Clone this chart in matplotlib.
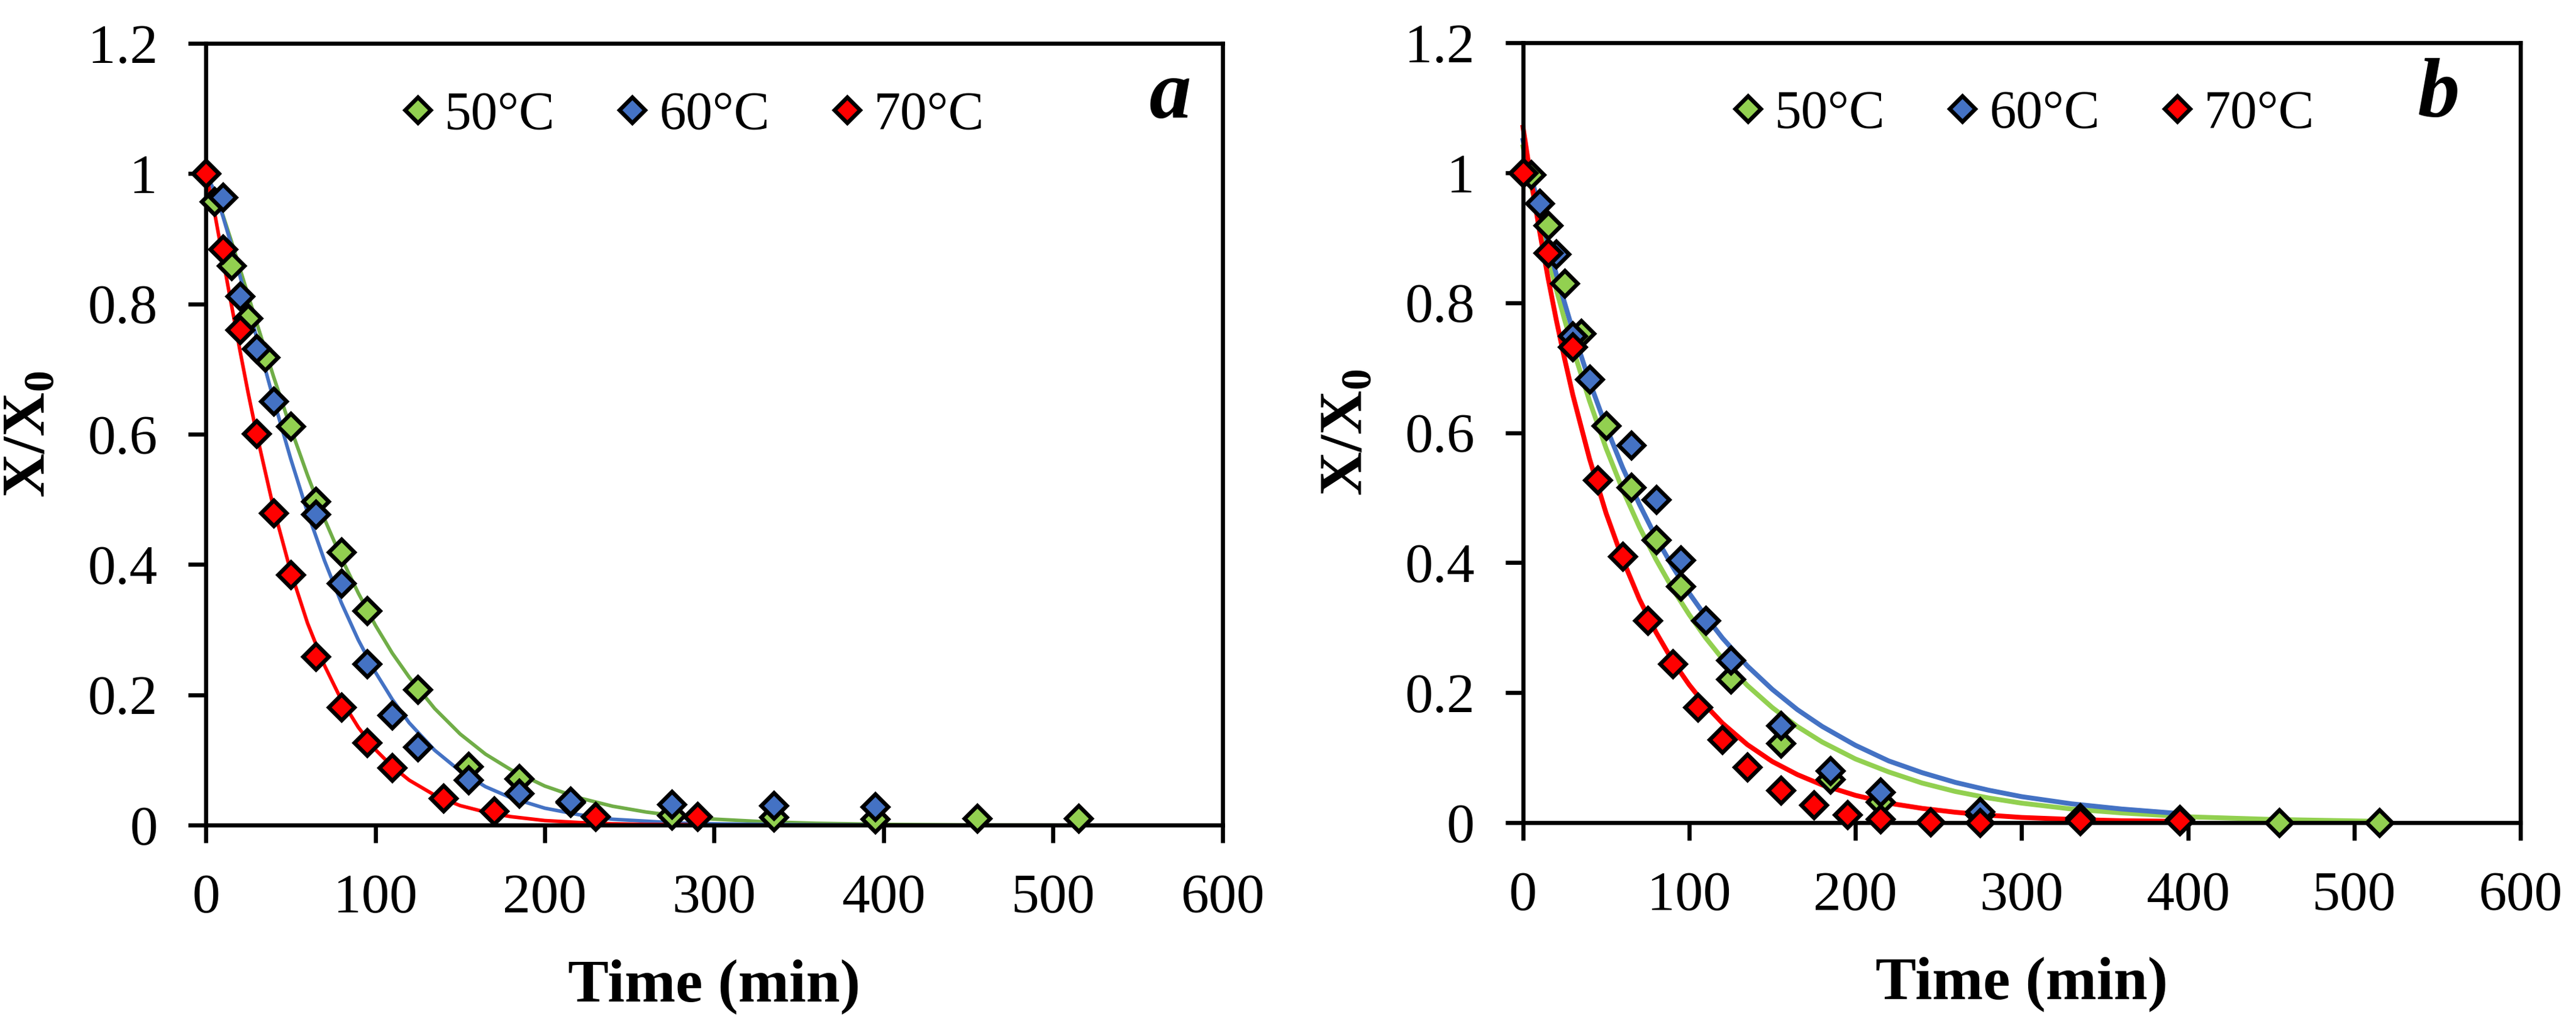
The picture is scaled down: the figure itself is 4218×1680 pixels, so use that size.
import matplotlib
matplotlib.use('Agg')
import matplotlib.pyplot as plt
from matplotlib.lines import Line2D

plt.rcParams['font.family'] = ['Liberation Serif', 'DejaVu Serif']
plt.rcParams['mathtext.fontset'] = 'custom'
plt.rcParams['mathtext.rm'] = 'Liberation Serif'
plt.rcParams['mathtext.bf'] = 'Liberation Serif:bold'

# ---- panel a : measured points ----
green_a_t = [0, 5, 15, 25, 35, 50, 65, 80, 95, 125, 155, 185, 215, 275, 335, 395, 455, 515]
green_a = [1.0, 0.957, 0.859, 0.778, 0.718, 0.612, 0.497, 0.419, 0.329, 0.208, 0.090, 0.071,
           0.035, 0.015, 0.012, 0.009, 0.010, 0.010]
blue_a_t = [0, 10, 20, 30, 40, 65, 80, 95, 110, 125, 155, 185, 215, 275, 335, 395]
blue_a = [1.0, 0.964, 0.812, 0.731, 0.651, 0.477, 0.371, 0.248, 0.169, 0.120, 0.069, 0.049,
          0.037, 0.032, 0.030, 0.028]
red_a_t = [0, 10, 20, 30, 40, 50, 65, 80, 95, 110, 140, 170, 230, 290]
red_a = [1.0, 0.884, 0.760, 0.601, 0.479, 0.384, 0.259, 0.181, 0.127, 0.088, 0.041, 0.022,
         0.013, 0.013]

# ---- panel a : fitted curves ----
fit_t = [0, 5, 10, 15, 20, 25, 30, 40, 50, 60, 70, 80, 90, 100, 110, 120, 135, 150, 165, 180,
         200, 220, 240, 260, 280, 300, 330, 360, 400, 450, 515]
green_fit_a = [1.0, 0.973, 0.937, 0.897, 0.855, 0.813, 0.771, 0.688, 0.610, 0.537, 0.470, 0.410,
               0.356, 0.307, 0.264, 0.227, 0.179, 0.140, 0.109, 0.085, 0.060, 0.042, 0.029,
               0.020, 0.0135, 0.0092, 0.0051, 0.0028, 0.0011, 0.0004, 0.0001]
blue_fit_a_t = fit_t[:28] + [395]
blue_fit_a = [1.0, 0.974, 0.935, 0.891, 0.844, 0.796, 0.748, 0.653, 0.563, 0.480, 0.406, 0.341,
              0.284, 0.235, 0.193, 0.157, 0.115, 0.083, 0.059, 0.042, 0.026, 0.016, 0.009,
              0.006, 0.003, 0.002, 0.001, 0.0004, 0.0002]
red_fit_a_t = fit_t[:24] + [290]
red_fit_a = [1.0, 0.942, 0.871, 0.800, 0.730, 0.663, 0.600, 0.486, 0.390, 0.310, 0.245, 0.192,
             0.150, 0.116, 0.090, 0.069, 0.046, 0.030, 0.020, 0.013, 0.007, 0.004, 0.002,
             0.001, 0.0005]

# ---- panel b : measured points ----
green_b_t = [0, 5, 15, 25, 35, 50, 65, 80, 95, 125, 155, 185, 215, 275, 335, 395, 455, 515]
green_b = [1.0, 0.997, 0.919, 0.830, 0.753, 0.611, 0.516, 0.435, 0.364, 0.221, 0.122, 0.067,
           0.032, 0.012, 0.005, 0.003, 0.0, 0.0]
blue_b_t = [0, 10, 20, 30, 40, 65, 80, 95, 110, 125, 155, 185, 215, 275, 335, 395]
blue_b = [1.0, 0.953, 0.875, 0.749, 0.682, 0.581, 0.497, 0.404, 0.311, 0.250, 0.149, 0.080,
          0.047, 0.017, 0.008, 0.005]
red_b_t = [0, 15, 30, 45, 60, 75, 90, 105, 120, 135, 155, 175, 195, 215, 245, 275, 335, 395]
red_b = [1.0, 0.877, 0.732, 0.527, 0.410, 0.311, 0.244, 0.178, 0.128, 0.086, 0.050, 0.027,
         0.012, 0.006, 0.001, 0.0, 0.003, 0.003]

# ---- panel b : fitted curves ----
green_fit_b = [1.040, 0.980, 0.924, 0.871, 0.821, 0.774, 0.730, 0.649, 0.576, 0.512, 0.455,
               0.405, 0.360, 0.320, 0.284, 0.252, 0.211, 0.177, 0.148, 0.124, 0.098, 0.078,
               0.061, 0.048, 0.038, 0.030, 0.021, 0.015, 0.009, 0.005, 0.002]
blue_fit_b_t = fit_t[:28] + [395]
blue_fit_b = [1.050, 0.994, 0.942, 0.892, 0.844, 0.800, 0.757, 0.679, 0.609, 0.546, 0.490,
              0.439, 0.394, 0.353, 0.317, 0.284, 0.241, 0.205, 0.174, 0.148, 0.119, 0.095,
              0.077, 0.062, 0.050, 0.040, 0.029, 0.021, 0.014]
red_fit_b_t = fit_t[:28] + [395]
red_fit_b = [1.070, 0.987, 0.910, 0.839, 0.774, 0.714, 0.658, 0.560, 0.476, 0.405, 0.344,
             0.293, 0.249, 0.212, 0.180, 0.153, 0.120, 0.094, 0.074, 0.058, 0.042, 0.030,
             0.022, 0.016, 0.0115, 0.008, 0.005, 0.003, 0.002]

labels = ['50\u00b0C', '60\u00b0C', '70\u00b0C']
x_ticks = [0, 100, 200, 300, 400, 500, 600]
y_ticks = [0, 0.2, 0.4, 0.6, 0.8, 1.0, 1.2]
y_ticklabels = ['0', '0.2', '0.4', '0.6', '0.8', '1', '1.2']

GREEN = '#92D050'
GREEN_DARK = '#70AD47'
BLUE = '#4472C4'
RED = '#FF0000'


def draw_panel(ax, points, fits, letter, green_line, lw, leg_x, letter_x):
    # fitted curves under the markers
    for (t, y), c in zip(fits, [green_line, BLUE, RED]):
        ax.plot(t, y, color=c, lw=lw, zorder=2, clip_on=False)
    for (t, y), c in zip(points, [GREEN, BLUE, RED]):
        ax.plot(t, y, ls='none', marker='D', ms=7.0, mfc=c, mec='black', mew=1.6,
                zorder=3, clip_on=False)

    ax.set_xlim(0, 600)
    ax.set_ylim(0, 1.2)
    ax.set_xticks(x_ticks)
    ax.set_yticks(y_ticks)
    ax.set_yticklabels(y_ticklabels)
    ax.tick_params(direction='out', length=7, width=1.6, labelsize=22, pad=12)
    for s in ax.spines.values():
        s.set_linewidth(1.6)

    ax.set_xlabel('Time (min)', fontsize=24, fontweight='bold', labelpad=14)
    ax.set_ylabel(r'$\mathbf{X/X}_\mathbf{0}$', fontsize=24, labelpad=12)

    handles = [Line2D([], [], ls='none', marker='D', ms=7.0, mfc=c, mec='black', mew=1.6)
               for c in [GREEN, BLUE, RED]]
    ax.legend(handles, labels, ncol=3, loc='center left', bbox_to_anchor=(leg_x, 0.908),
              frameon=False, fontsize=21, handlelength=0.5, handletextpad=0.25,
              columnspacing=1.2, borderpad=0, borderaxespad=0)

    ax.text(letter_x, 0.905, letter, transform=ax.transAxes, fontsize=33,
            fontweight='bold', fontstyle='italic', ha='center', va='baseline')


fig = plt.figure(figsize=(14.063, 5.6), dpi=300)
ax1 = fig.add_axes([0.0799, 0.1958, 0.3946, 0.7619])
ax2 = fig.add_axes([0.5911, 0.1982, 0.3871, 0.7601])

draw_panel(ax1,
           [(green_a_t, green_a), (blue_a_t, blue_a), (red_a_t, red_a)],
           [(fit_t, green_fit_a), (blue_fit_a_t, blue_fit_a), (red_fit_a_t, red_fit_a)],
           'a', GREEN_DARK, 1.4, 0.195, 0.948)
draw_panel(ax2,
           [(green_b_t, green_b), (blue_b_t, blue_b), (red_b_t, red_b)],
           [(fit_t, green_fit_b), (blue_fit_b_t, blue_fit_b), (red_fit_b_t, red_fit_b)],
           'b', GREEN, 1.9, 0.212, 0.918)

fig.savefig('out.png', dpi=300)
